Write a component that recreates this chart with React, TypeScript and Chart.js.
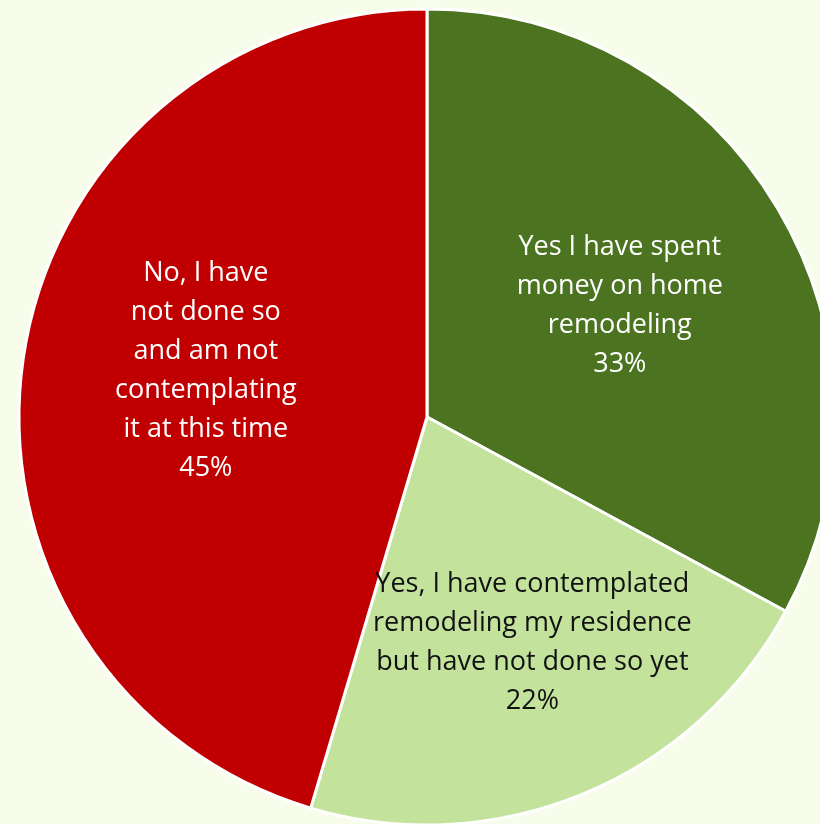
import React, { useEffect, useRef } from "react";
import { Chart, registerables } from "chart.js";

Chart.register(...registerables);

const categories: string[][] = [
  ["Yes I have spent", "money on home", "remodeling"],
  ["Yes, I have contemplated", "remodeling my residence", "but have not done so yet"],
  ["No, I have", "not done so", "and am not", "contemplating", "it at this time"],
];
const values: number[] = [32.9, 21.7, 45.4];

const sliceColors = ["#4B7320", "#C3E29B", "#C00000"];
const textColors = ["#FFFFFF", "#111111", "#FFFFFF"];
const labelRadiusFrac = [0.55, 0.608, 0.557];
const labelAngleShift = [0, -3.4, 2.6]; // degrees
const labelNudge = [
  [0, 4],
  [-3, 3],
  [2, -3],
];
const BG = "#F7FCEB";

const labelPlugin = {
  id: "sliceLabels",
  afterDatasetsDraw(chart: any) {
    const ctx = chart.ctx;
    const meta = chart.getDatasetMeta(0);
    ctx.save();
    ctx.font = "27px 'Open Sans', sans-serif";
    ctx.textAlign = "center";
    ctx.textBaseline = "middle";
    const lineH = 39;
    meta.data.forEach((arc: any, i: number) => {
      const p = arc.getProps(["x", "y", "startAngle", "endAngle", "outerRadius"], true);
      const mid = (p.startAngle + p.endAngle) / 2 + (labelAngleShift[i] * Math.PI) / 180;
      const r = p.outerRadius * labelRadiusFrac[i];
      const cx = p.x + Math.cos(mid) * r + labelNudge[i][0];
      const cy = p.y + Math.sin(mid) * r + labelNudge[i][1];
      const lines = [...categories[i], Math.round(values[i]) + "%"];
      const top = cy - ((lines.length - 1) * lineH) / 2;
      ctx.fillStyle = textColors[i];
      lines.forEach((t, j) => ctx.fillText(t, cx, top + j * lineH));
    });
    ctx.restore();
  },
};

export default function App() {
  const ref = useRef<HTMLCanvasElement | null>(null);
  useEffect(() => {
    if (!ref.current) return;
    const chart = new Chart(ref.current, {
      type: "pie",
      data: {
        labels: categories.map((c) => c.join(" ")),
        datasets: [
          {
            data: values,
            backgroundColor: sliceColors,
            borderColor: "#FFFFFF",
            borderWidth: 3,
            radius: 408,
          } as any,
        ],
      },
      options: {
        animation: false,
        responsive: false,
        maintainAspectRatio: false,
        layout: { padding: 0 },
        plugins: {
          legend: { display: false },
          tooltip: { enabled: false },
        },
      },
      plugins: [labelPlugin],
    });
    return () => chart.destroy();
  }, []);
  return (
    <div
      style={{
        position: "fixed",
        left: 0,
        top: 0,
        width: 820,
        height: 824,
        overflow: "hidden",
        background: BG,
      }}
    >
      <canvas
        ref={ref}
        width={840}
        height={840}
        style={{ position: "absolute", left: 7, top: -3, width: 840, height: 840 }}
      />
    </div>
  );
}
